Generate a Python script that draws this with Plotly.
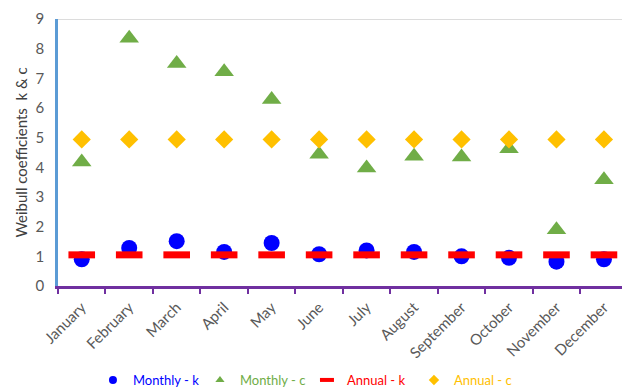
import plotly.graph_objects as go

months = ["January", "February", "March", "April", "May", "June", "July",
          "August", "September", "October", "November", "December"]
monthly_k = [0.90, 1.28, 1.51, 1.15, 1.45, 1.07, 1.20, 1.15, 1.00, 0.95, 0.82, 0.90]
monthly_c = [4.18, 8.35, 7.50, 7.22, 6.29, 4.44, 3.98, 4.37, 4.35, 4.63, 1.90, 3.58]
annual_k = [1.05] * 12
annual_c = [4.94] * 12

FONT = "Lato, 'Open Sans', sans-serif"
BLUE, GREEN, RED, GOLD = "#0000FF", "#70AD47", "#FF0000", "#FFC000"

series = [
    ("Monthly - k", monthly_k, BLUE,
     dict(symbol="circle", size=16, color=BLUE),
     dict(symbol="circle", size=8, color=BLUE)),
    ("Monthly - c", monthly_c, GREEN,
     dict(symbol="triangle-up", size=17, color=GREEN),
     dict(symbol="triangle-up", size=8, color=GREEN)),
    ("Annual - k", annual_k, RED,
     dict(symbol="line-ew", size=19, color=RED, line=dict(color=RED, width=7)),
     dict(symbol="line-ew", size=10, color=RED, line=dict(color=RED, width=4))),
    ("Annual - c", annual_c, GOLD,
     dict(symbol="diamond", size=14, color=GOLD),
     dict(symbol="diamond", size=8, color=GOLD)),
]

fig = go.Figure()
for name, values, color, mk, _ in series:
    fig.add_trace(go.Scatter(x=months, y=values, mode="markers", name=name,
                             marker=mk, showlegend=False, legendgroup=name))
# legend entries with compact symbols and text coloured like the series
for name, _, color, _, lmk in series:
    fig.add_trace(go.Scatter(x=[None], y=[None], mode="markers",
                             name=f"<span style='color:{color}'>{name}</span>",
                             marker=lmk, legendgroup=name))

# light border line along the top of the value range
fig.add_shape(type="line", xref="paper", yref="y", x0=0, x1=1, y0=9, y1=9,
              line=dict(color="#D0D0D0", width=1.5), layer="below")

fig.update_layout(
    width=622, height=389,
    margin=dict(l=58, r=0, t=19, b=103, autoexpand=False),
    paper_bgcolor="white", plot_bgcolor="white",
    font=dict(family=FONT, color="#595959"),
    showlegend=True,
    legend=dict(orientation="h", x=0.062, xanchor="left", y=-0.352,
                yanchor="middle", font=dict(size=13), itemwidth=30,
                entrywidth=62, tracegroupgap=0),
    xaxis=dict(
        type="category", range=[-0.5, 11.38], showgrid=False, zeroline=False,
        automargin=False,
        showline=True, linecolor="#7030A0", linewidth=2.5,
        ticks="outside", tickson="boundaries", ticklen=5, tickwidth=2,
        tickcolor="#7030A0", tickangle=-45, ticklabelstandoff=4,
        tickfont=dict(size=15, color="#595959")),
    yaxis=dict(
        range=[0, 9], dtick=1, showgrid=False, zeroline=False,
        automargin=False,
        showline=True, linecolor="#5B9BD5", linewidth=2.5,
        ticks="outside", ticklen=8, tickcolor="rgba(0,0,0,0)",
        tickfont=dict(size=15, color="#595959"),
        title=dict(text="Weibull coefficients  k &amp; c", standoff=5,
                   font=dict(size=15, color="#404040"))),
)

fig.write_html("out.html")
